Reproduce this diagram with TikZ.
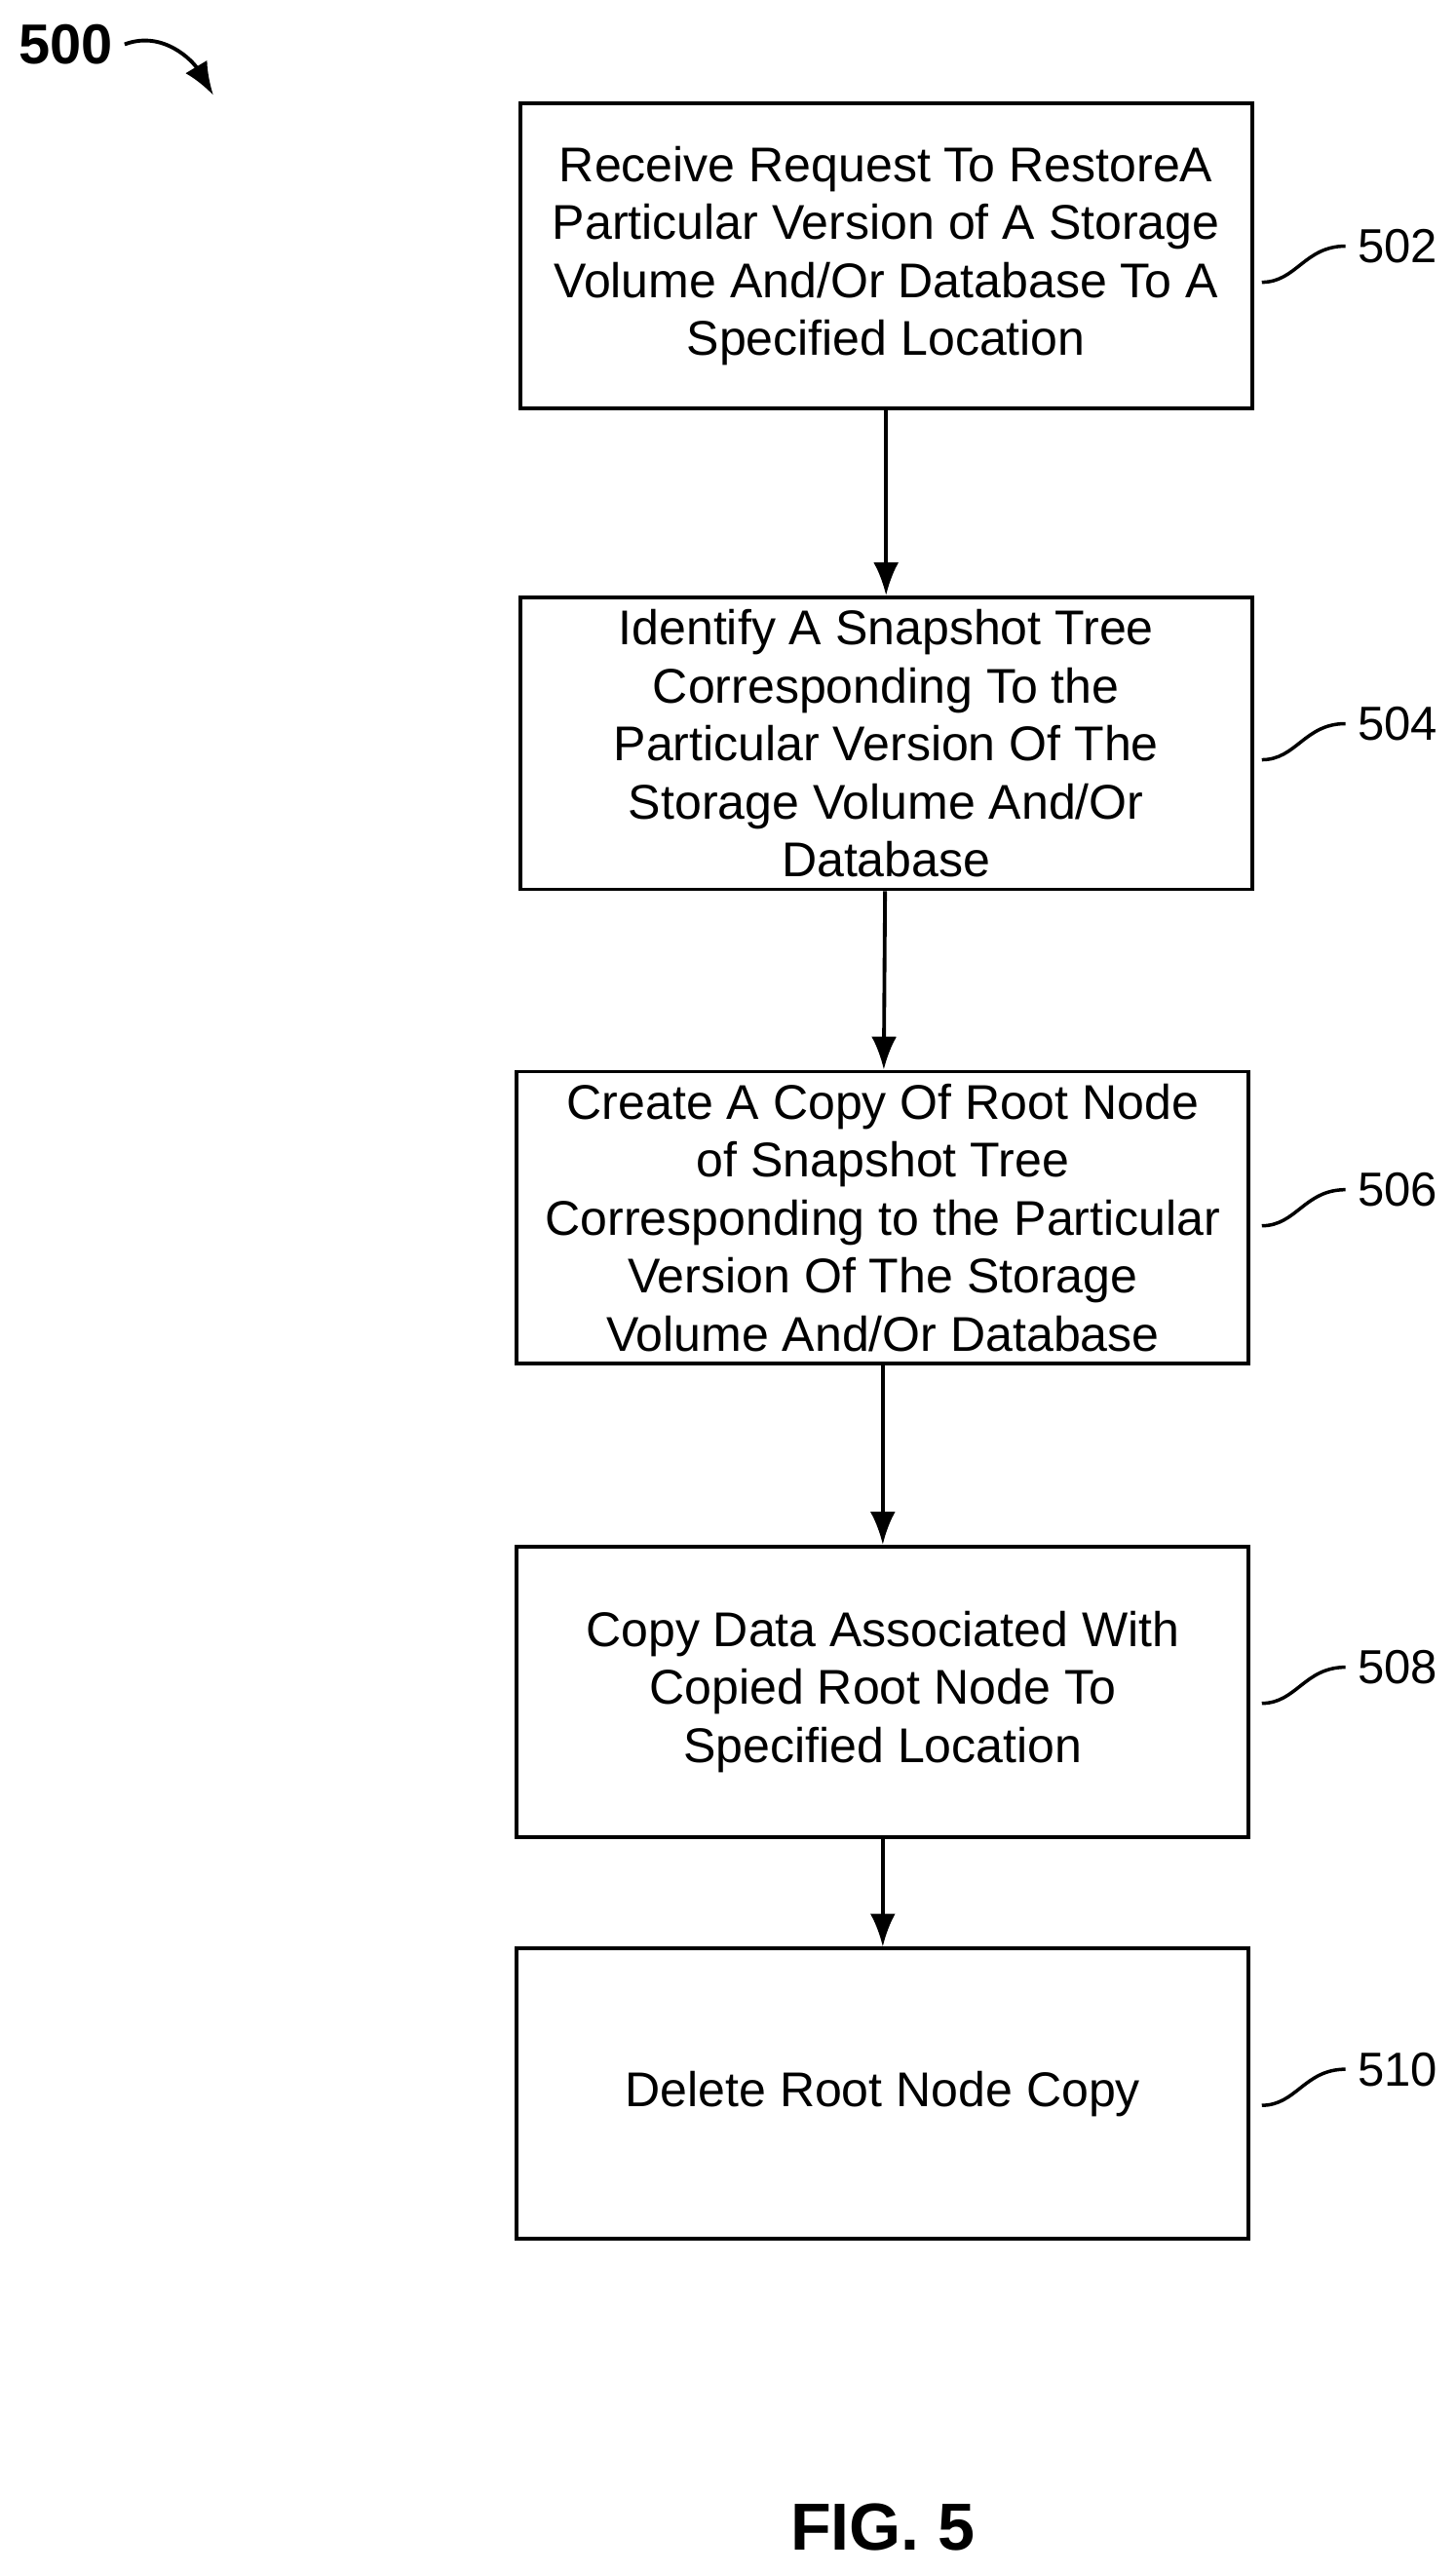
\documentclass[tikz,border=0pt]{standalone}
\usepackage{fontspec}
\setmainfont{Liberation Sans}
\usetikzlibrary{positioning,arrows.meta}
\begin{document}
\begin{tikzpicture}[x=0.01691cm,y=-0.01691cm]
	\tikzset{etape/.style={draw=black, line width=1.1pt, minimum width=446*0.01691cm, align=center, font=\fontsize{14.3}{17}\selectfont},
		fleche/.style={-{Latex[length=3.4mm,width=2.6mm]}, line width=1.1pt},
		renvoi/.style={font=\fontsize{14}{16}\selectfont}};
	\useasboundingbox (0,0) rectangle (887,1568);

	\node[etape, minimum height=186*0.01691cm] (e502) at (540,156) {Receive Request To RestoreA\\Particular Version of A Storage\\Volume And/Or Database To A\\Specified Location};
	\node[etape, minimum height=178*0.01691cm] (e504) at (540,453) {Identify A Snapshot Tree\\Corresponding To the\\Particular Version Of The\\Storage Volume And/Or\\Database};
	\node[etape, minimum height=178*0.01691cm] (e506) at (538,742) {Create A Copy Of Root Node\\of Snapshot Tree\\Corresponding to the Particular\\Version Of The Storage\\Volume And/Or Database};
	\node[etape, minimum height=177*0.01691cm] (e508) at (538,1031) {Copy Data Associated With\\Copied Root Node To\\Specified Location};
	\node[etape, minimum height=177*0.01691cm] (e510) at (538,1276) {Delete Root Node Copy};

	\draw[fleche] (e502) -- (e504);
	\draw[fleche] (e504) -- (e506);
	\draw[fleche] (e506) -- (e508);
	\draw[fleche] (e508) -- (e510);

	\foreach \n/\y in {502/150, 504/441, 506/725, 508/1016, 510/1261} {
		\node[renvoi, anchor=west] (r\n) at (820,\y) {\n};
		\draw[line width=1pt] (769,\y+22) .. controls (790,\y+22) and (795,\y) .. (r\n.west);
	}

	\node[font=\bfseries\fontsize{16.5}{18}\selectfont] (fig500) at (40,27) {500};
	\draw[fleche] (fig500.east) .. controls (100,18) and (118,38) .. (130,58);

	\node[font=\bfseries\fontsize{19.5}{22}\selectfont] (titre) at (538,1540) {FIG. 5};
\end{tikzpicture}
\end{document}
